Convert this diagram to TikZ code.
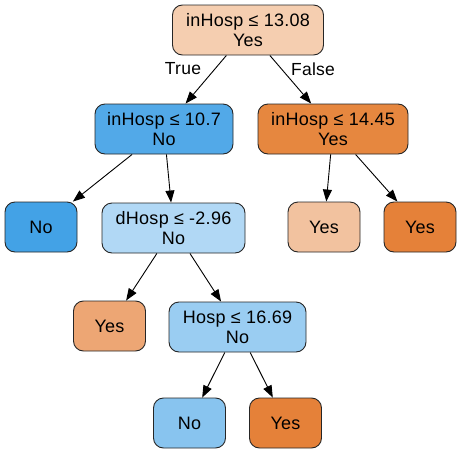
\documentclass[tikz,border=0pt]{standalone}
\usepackage{fontspec}
\setmainfont{Liberation Sans}[LetterSpace=1.5]
\usetikzlibrary{arrows.meta}
\definecolor{cRoot}{HTML}{F5CEB0}
\definecolor{cBlueA}{HTML}{52A9E8}
\definecolor{cOrangeA}{HTML}{E6873F}
\definecolor{cBlueLeaf}{HTML}{43A2E6}
\definecolor{cBlueLight}{HTML}{B1D8F5}
\definecolor{cPeach}{HTML}{F2C29F}
\definecolor{cOrange}{HTML}{E58139}
\definecolor{cSalmon}{HTML}{EDA674}
\definecolor{cBlueMid}{HTML}{9ACDF2}
\definecolor{cBlueNo}{HTML}{88C4EF}
\tikzset{
	tnode/.style={draw=black!85, line width=0.9pt, rounded corners=10pt, minimum height=50pt, inner xsep=8pt, align=center, font=\fontsize{18}{20}\selectfont},
	leaf/.style={tnode, minimum width=72pt},
	edge/.style={line width=0.9pt, -{Triangle[length=12pt,width=9pt]}},
	lbl/.style={font=\fontsize{17.5}{20}\selectfont}
}

\begin{document}
\begin{tikzpicture}[x=1pt, y=-1pt]
			%%%%% START %%%%%
			\useasboundingbox (0, 0) rectangle (461, 453);
			
			\node[tnode, fill=cRoot, minimum width=151pt] (root) at (248, 30) {inHosp ≤ 13.08\\Yes};
			
			\node[tnode, fill=cBlueA, minimum width=138pt] (inA) at (164, 129) {inHosp ≤ 10.7\\No};
			\node[tnode, fill=cOrangeA, minimum width=150pt] (inB) at (333, 129) {inHosp ≤ 14.45\\Yes};
			
			\node[leaf, fill=cBlueLeaf] (noA) at (41, 227) {No};
			\node[tnode, fill=cBlueLight, minimum width=143pt] (dHosp) at (173.5, 228) {dHosp ≤ -2.96\\No};
			\node[leaf, fill=cPeach] (yesA) at (324, 227) {Yes};
			\node[leaf, fill=cOrange] (yesB) at (420, 227) {Yes};
			
			\node[leaf, fill=cSalmon] (yesC) at (109.5, 326) {Yes};
			\node[tnode, fill=cBlueMid, minimum width=137pt] (hosp) at (237.5, 327) {Hosp ≤ 16.69\\No};
			
			\node[leaf, fill=cBlueNo] (noB) at (189.5, 423) {No};
			\node[leaf, fill=cOrange] (yesD) at (285.5, 423) {Yes};
			
			\draw[edge] (root) -- (inA);
			\draw[edge] (root) -- (inB);
			\node[lbl] (true) at (183, 69) {True};
			\node[lbl] (false) at (313, 69) {False};
			
			\draw[edge] (inA) -- (noA);
			\draw[edge] (inA) -- (dHosp);
			\draw[edge] (inB) -- (yesA);
			\draw[edge] (inB) -- (yesB);
			
			\draw[edge] (dHosp) -- (yesC);
			\draw[edge] (dHosp) -- (hosp);
			
			\draw[edge] (hosp) -- (noB);
			\draw[edge] (hosp) -- (yesD);
			%%%%% END %%%%%
\end{tikzpicture}
\end{document}
